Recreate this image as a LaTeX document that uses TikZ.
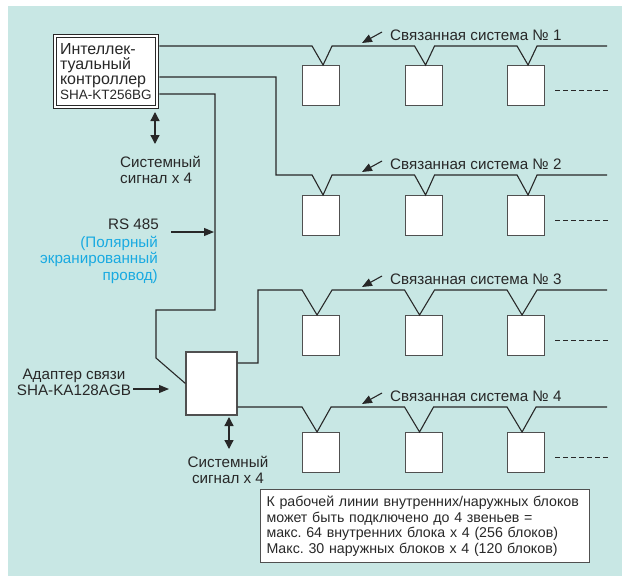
\documentclass[tikz,border=0pt]{standalone}
\usepackage{fontspec}
\setmainfont{Liberation Sans}
\usetikzlibrary{arrows.meta,calc}
\definecolor{panel}{RGB}{200,231,228}
\definecolor{ink}{RGB}{40,40,40}
\definecolor{frame}{RGB}{80,80,80}
\definecolor{cable}{RGB}{25,170,225}
\frenchspacing

\begin{document}
\begin{tikzpicture}[x=1pt,y=-1pt,
  line/.style={draw=ink,line width=1.1pt,line join=miter},
  unit/.style={draw=frame,line width=1.1pt,fill=white,minimum width=37pt,
    minimum height=40pt,inner sep=0pt,anchor=north west},
  lab/.style={font=\fontsize{15.2}{16}\selectfont,text=ink,inner sep=0pt},
  pointer/.style={draw=ink,line width=1.1pt,-{Triangle[length=10pt,width=8pt]}},
  both/.style={draw=ink,line width=1.3pt,
    {Triangle[length=9pt,width=9pt]}-{Triangle[length=9pt,width=9pt]}},
  trail/.style={draw=ink,line width=0.9pt,dash pattern=on 4.5pt off 3.5pt}
]
\useasboundingbox (0,0) rectangle (622,576);
\fill[panel] (8,6) rectangle (622,576);

% smart controller
\node[draw=ink,line width=0.9pt,double=white,double distance=2.4pt,fill=white,
  minimum width=102pt,minimum height=71pt,inner xsep=5pt,inner ysep=0pt,
  text width=92pt,align=left,text=ink,
  font=\fontsize{16}{14.8}\selectfont] (ctrl) at (106,71.5)
  {Интеллек-\\туальный\\контроллер\\{\fontsize{13.5}{14.8}\selectfont SHA-KT256BG}};

% communication adapter
\node[draw=frame,line width=1.1pt,fill=white,minimum width=51pt,
  minimum height=63pt,inner sep=0pt] (adp) at (211.5,383.5) {};

% indoor units of the four linked systems
\foreach \r/\top in {1/65,2/195,3/315,4/432}
  \foreach \c/\x in {1/302,2/404.5,3/507}
    \node[unit] (u\r\c) at (\x,\top) {};

% drop points of the units
\foreach \c in {1,2,3} {
  \coordinate (v1\c) at ([xshift=2pt]u1\c.north);
  \coordinate (v2\c) at ([xshift=2pt]u2\c.north);
  \coordinate (v3\c) at ([xshift=-4pt]u3\c.north);
  \coordinate (v4\c) at ([xshift=-4pt]u4\c.north);
}

% trunk ends and bends
\coordinate (e1) at (607,46);
\coordinate (e2) at (607,175);
\coordinate (e3) at (607,290);
\coordinate (e4) at (607,407);
\coordinate (b1) at (276,77);
\coordinate (b2) at (276,175);
\coordinate (a1) at (258,363);
\coordinate (a2) at (258,290);
\coordinate (r1) at (215,94);
\coordinate (r2) at (215,310);
\coordinate (r3) at (156,310);
\coordinate (r4) at (156,358);

% system 1
\draw[line] ($(ctrl.east |- e1)+(2,0)$)
  foreach \c in {1,2,3} { -- ($(v1\c)+(-11,-19)$) -- (v1\c) -- ($(v1\c)+(9,-19)$) }
  -- (e1);
% system 2
\draw[line] ($(ctrl.east |- b1)+(2,0)$) -- (b1) -- (b2)
  foreach \c in {1,2,3} { -- ($(v2\c)+(-11,-20)$) -- (v2\c) -- ($(v2\c)+(9,-20)$) }
  -- (e2);
% RS 485 to the adapter
\draw[line] ($(ctrl.east |- r1)+(2,0)$) -- (r1) -- (r2) -- (r3) -- (r4) -- (adp.west);
% system 3
\draw[line] (adp.east |- a1) -- (a1) -- (a2)
  foreach \c in {1,2,3} { -- ($(v3\c)+(-15,-25)$) -- (v3\c) -- ($(v3\c)+(15,-25)$) }
  -- (e3);
% system 4
\draw[line] (adp.east |- e4)
  foreach \c in {1,2,3} { -- ($(v4\c)+(-15,-25)$) -- (v4\c) -- ($(v4\c)+(14,-25)$) }
  -- (e4);

% more units follow
\foreach \r in {1,2,3,4}
  \draw[trail] ($(u\r3.north east)+(10,25)$) -- ($(u\r3.north east)+(63,25)$);

% system labels
\foreach \r/\y in {1/40,2/169,3/284,4/401} {
  \node[lab,anchor=base west] (t\r) at (390,\y) {Связанная система №~\r};
  \draw[pointer] ($(t\r.base west)+(-8,-8)$) -- ($(t\r.base west)+(-28,3)$);
}

% system signal of the controller (base = last line)
\coordinate (sa) at (155,112);
\coordinate (sb) at (155,144);
\draw[both] (sa) -- (sb);
\node[lab,align=left,anchor=base west] (sig1) at (120,183) {Системный\\сигнал x 4};

% RS 485 cable
\node[lab,anchor=base east] (rs) at (159,229) {RS 485};
\node[lab,text=cable,align=right,anchor=base east,font=\fontsize{15.2}{16.3}\selectfont]
  (rsnote) at (158,280) {(Полярный\\экранированный\\провод)};
\coordinate (rsTip) at (214,232);
\draw[pointer] ($(rs.base east)+(12,3)$) -- (rsTip);

% adapter label
\node[lab,align=center,anchor=base] (adl) at (74,395) {Адаптер связи\\SHA-KA128AGB};
\coordinate (adTail) at (133,389);
\coordinate (adTip) at (169,389);
\draw[pointer] (adTail) -- (adTip);

% system signal of the adapter
\coordinate (sc) at (229,417);
\coordinate (sd) at (229,449);
\draw[both] (sc) -- (sd);
\node[lab,align=center,anchor=base] (sig2) at (228,483) {Системный\\сигнал x 4};

% capacity note
\node[draw=frame,line width=1pt,fill=white,anchor=north west,
  minimum width=329pt,minimum height=73pt,inner xsep=6pt,inner ysep=0pt,
  text width=317pt,align=left,text=ink,font=\fontsize{14.2}{15.5}\selectfont]
  (note) at (260,489)
  {К рабочей линии внутренних/наружных блоков\\
   может быть подключено до 4 звеньев =\\
   макс. 64 внутренних блока x 4 (256 блоков)\\
   Макс. 30 наружных блоков x 4 (120 блоков)};
\end{tikzpicture}
\end{document}
